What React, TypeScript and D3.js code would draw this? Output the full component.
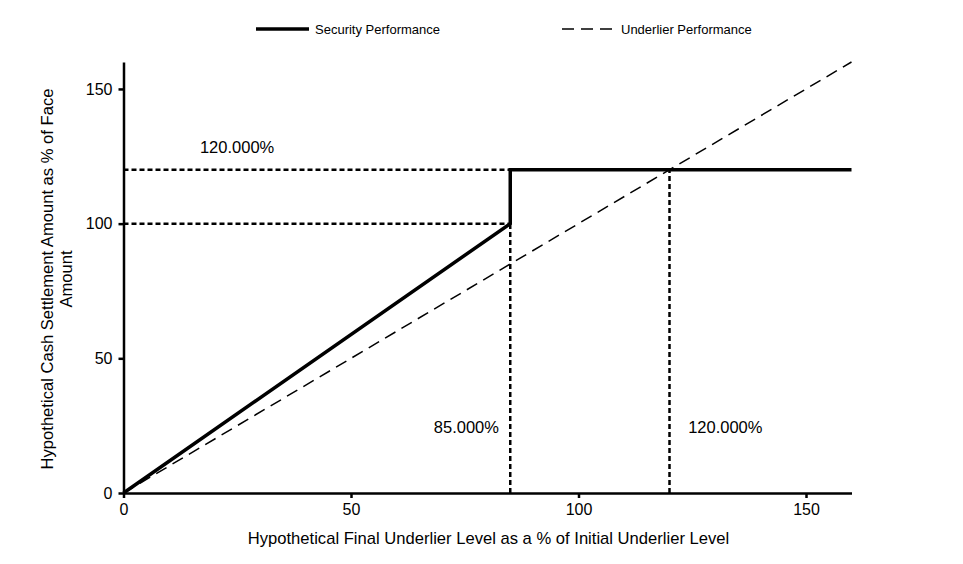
import React, { useRef, useEffect } from 'react';
import * as d3 from 'd3';

// underlier level (% of initial) vs cash settlement (% of face)
const securityLevels = [0, 85, 85, 160];
const securityValues = [0, 100, 120, 120];
const underlierLevels = [0, 160];
const underlierValues = [0, 160];
const xTicks = [0, 50, 100, 150];
const yTicks = [0, 50, 100, 150];

// dashed guide lines: [x1, y1, x2, y2]
const guides: [number, number, number, number][] = [
  [0, 120, 85, 120],
  [0, 100, 85, 100],
  [85, 0, 85, 100],
  [120, 0, 120, 120],
];
const notes = [
  { text: '120.000%', x: 16.8, y: 126.2 },
  { text: '85.000%', x: 68.2, y: 22.3 },
  { text: '120.000%', x: 124.1, y: 22.3 },
];

const FONT = '"Liberation Sans", Arial, sans-serif';

const App: React.FC = () => {
  const svgRef = useRef<SVGSVGElement | null>(null);

  useEffect(() => {
    const width = 963;
    const height = 564;
    const svg = d3.select(svgRef.current).attr('width', width).attr('height', height);
    svg.selectAll('*').remove();

    const x = d3.scaleLinear().domain([0, 160]).range([123.5, 851.5]);
    const y = d3.scaleLinear().domain([0, 160]).range([493, 62]);

    const g = svg.append('g');

    // guides
    g.selectAll('line.guide')
      .data(guides)
      .enter()
      .append('line')
      .attr('x1', d => x(d[0]))
      .attr('y1', d => y(d[1]))
      .attr('x2', d => x(d[2]))
      .attr('y2', d => y(d[3]))
      .attr('stroke', '#000')
      .attr('stroke-width', 2.5)
      .attr('stroke-dasharray', '5,3');

    const line = d3
      .line<[number, number]>()
      .x(d => x(d[0]))
      .y(d => y(d[1]));

    g.append('path')
      .attr('d', line(underlierLevels.map((v, i) => [v, underlierValues[i]]))!)
      .attr('fill', 'none')
      .attr('stroke', '#000')
      .attr('stroke-width', 1.5)
      .attr('stroke-dasharray', '12,7');

    g.append('path')
      .attr('d', line(securityLevels.map((v, i) => [v, securityValues[i]]))!)
      .attr('fill', 'none')
      .attr('stroke', '#000')
      .attr('stroke-width', 3.5);

    // axes
    const xAxis = g
      .append('g')
      .attr('transform', `translate(0,${y(0)})`)
      .call(d3.axisBottom(x).tickValues(xTicks).tickSize(5).tickSizeOuter(0).tickPadding(6));
    const yAxis = g
      .append('g')
      .attr('transform', `translate(${x(0)},0)`)
      .call(d3.axisLeft(y).tickValues(yTicks).tickSize(5).tickSizeOuter(0).tickPadding(6));
    [xAxis, yAxis].forEach(a => {
      a.select('.domain').attr('stroke-width', 2.5);
      a.selectAll('.tick line').attr('stroke-width', 2.5);
      a.selectAll('.tick text').attr('font-family', FONT).attr('font-size', 16).attr('fill', '#000');
    });

    g.selectAll('text.note')
      .data(notes)
      .enter()
      .append('text')
      .attr('x', d => x(d.x))
      .attr('y', d => y(d.y))
      .attr('font-family', FONT)
      .attr('font-size', 16.5)
      .text(d => d.text);

    // axis titles
    svg
      .append('text')
      .attr('x', 488.5)
      .attr('y', 544)
      .attr('text-anchor', 'middle')
      .attr('font-family', FONT)
      .attr('font-size', 16.6)
      .text('Hypothetical Final Underlier Level as a % of Initial Underlier Level');

    const yt = svg
      .append('text')
      .attr('transform', 'translate(53,279) rotate(-90)')
      .attr('text-anchor', 'middle')
      .attr('font-family', FONT)
      .attr('font-size', 16.6);
    yt.append('tspan').attr('x', 0).attr('dy', 0).text('Hypothetical Cash Settlement Amount as % of Face');
    yt.append('tspan').attr('x', 0).attr('dy', 19).text('Amount');

    // legend
    const legend = svg.append('g').attr('font-family', FONT).attr('font-size', 13);
    legend.append('line').attr('x1', 256).attr('x2', 309).attr('y1', 29).attr('y2', 29)
      .attr('stroke', '#000').attr('stroke-width', 3.5);
    legend.append('text').attr('x', 315).attr('y', 34).text('Security Performance');
    legend.append('line').attr('x1', 562).attr('x2', 616).attr('y1', 29).attr('y2', 29)
      .attr('stroke', '#000').attr('stroke-width', 1.6).attr('stroke-dasharray', '12,7');
    legend.append('text').attr('x', 621).attr('y', 34).text('Underlier Performance');
  }, []);

  return <svg ref={svgRef} style={{ position: 'absolute', left: 0, top: 0 }}></svg>;
};

export default App;
